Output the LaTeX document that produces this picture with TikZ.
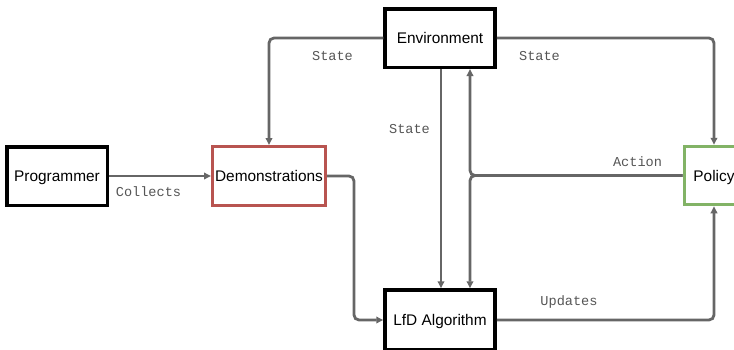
\documentclass[tikz,border=0pt]{standalone}
\usepackage{fontspec}
\setmainfont{Liberation Sans}
\newfontfamily\labelfont{Liberation Mono}
\usetikzlibrary{arrows.meta}
\definecolor{linegray}{HTML}{666666}
\definecolor{labelgray}{HTML}{555555}
\definecolor{demored}{HTML}{B85450}
\definecolor{polgreen}{HTML}{82B366}
\tikzset{
  block/.style={draw=black, line width=3.5pt, fill=white, minimum width=110pt,
    minimum height=58.5pt, inner sep=0pt, text height=11pt, text depth=0pt,
    font=\fontsize{15.4}{18}\selectfont},
  conn/.style={draw=linegray, line width=2.8pt, rounded corners=5pt,
    -{Triangle[length=7pt,width=6.5pt]}},
  tag/.style={text=labelgray, inner sep=0pt, font=\labelfont\fontsize{13.6}{16}\selectfont}
}
\begin{document}
\begin{tikzpicture}[x=1pt, y=-1pt]
  \useasboundingbox (0,0) rectangle (734,349);

  % blocks
  \node[block, minimum width=100.5pt] (prog) at (57,176) {Programmer};
  \node[block, draw=demored, line width=3pt, minimum width=113pt, minimum height=59pt] (demo) at (269,176) {Demonstrations};
  \node[block] (env) at (440,38) {Environment};
  \node[block, minimum height=60pt] (lfd) at (440,320) {LfD Algorithm};
  \node[block, draw=polgreen, line width=3pt, minimum width=60pt, minimum height=58.5pt] (pol) at (714,175.5) {Policy};

  % connectors
  \draw[conn] (prog.east) -- (demo.west);
  \draw[conn] (env.west) -| (demo.north);
  \draw[conn] (env.east) -| (pol.north);
  \draw[conn] ([xshift=1pt]env.south) -- ([xshift=1pt]lfd.north);
  \draw[conn] (pol.west) -| ([xshift=30pt]env.south);
  \draw[conn] (pol.west) -| ([xshift=30pt]lfd.north);
  \draw[conn] (demo.east) -- ++(27,0) |- (lfd.west);
  \draw[conn] (lfd.east) -| (pol.south);

  % connector labels
  \node[tag] (lcollects) at (148.5,192) {Collects};
  \node[tag] (lstate1) at (332.5,56) {State};
  \node[tag] (lstate2) at (539.5,56) {State};
  \node[tag] (lstate3) at (409.5,129) {State};
  \node[tag] (laction) at (637.5,162) {Action};
  \node[tag] (lupdates) at (569,302) {Updates};
\end{tikzpicture}
\end{document}
